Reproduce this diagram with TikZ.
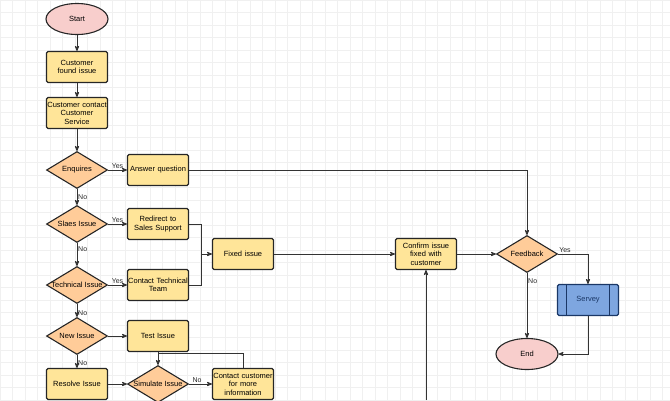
\documentclass[tikz,border=0pt]{standalone}
\usepackage{fontspec}
\setmainfont{Liberation Sans}
\usetikzlibrary{shapes,arrows,positioning}
\definecolor{boxfill}{HTML}{FFE599}
\definecolor{decfill}{HTML}{FFCC99}
\definecolor{termfill}{HTML}{F8CECC}
\definecolor{subfill}{HTML}{7EA6E0}
\definecolor{subdraw}{HTML}{1A3766}
\definecolor{linecol}{HTML}{333333}
\definecolor{gridcol}{HTML}{F0F0F0}
\tikzset{%
	procnode/.style={rectangle, rounded corners=1.5pt, draw=black!85, line width=1.1pt, fill=boxfill, minimum width=61pt, minimum height=31pt, text width=61pt, align=center, inner sep=0pt, font=\fontsize{7.5}{8.5}\selectfont},
	decnode/.style={diamond, aspect=1.65, draw=black!85, line width=1.1pt, fill=decfill, minimum width=61pt, minimum height=37pt, inner sep=0pt, font=\fontsize{7.5}{8.5}\selectfont},
	termnode/.style={ellipse, draw=black!85, line width=1.1pt, fill=termfill, minimum width=62pt, minimum height=31pt, inner sep=0pt, font=\fontsize{7.5}{8.5}\selectfont},
	subnode/.style={procnode, fill=subfill, draw=subdraw, text=subdraw, path picture={
		\draw[subdraw, line width=1.1pt] ([xshift=9pt]path picture bounding box.north west) -- ([xshift=9pt]path picture bounding box.south west);
		\draw[subdraw, line width=1.1pt] ([xshift=-9pt]path picture bounding box.north east) -- ([xshift=-9pt]path picture bounding box.south east);}},
	pt/.style={draw=linecol, line width=0.8pt, ->, >=stealth'},
	ln/.style={draw=linecol, line width=0.8pt},
	lbl/.style={inner sep=0.8pt, text=black!85, font=\fontsize{7}{7}\selectfont}
}
\begin{document}
\begin{tikzpicture}[x=1pt, y=-1pt, node distance=81pt]
	\useasboundingbox (0,0) rectangle (670,400);
	\draw[gridcol, line width=0.35pt, step=12.5pt] (0,400) grid (670,0);

	\node[termnode] (start) at (77,19) {Start};
	\node[procnode] (found) at (77,67) {Customer\\found issue};
	\node[procnode] (contact) at (77,113) {Customer contact\\Customer\\Service};
	\node[decnode] (enquires) at (77,170) {Enquires};
	\node[decnode] (sales) at (77,224) {Slaes Issue};
	\node[decnode] (technical) at (77,285) {Technical Issue};
	\node[decnode] (newissue) at (77,336) {New Issue};
	\node[procnode] (resolve) at (77,384) {Resolve Issue};

	\node[procnode] (answer) [right of=enquires] {Answer question};
	\node[procnode] (redirect) [right of=sales] {Redirect to\\Sales Support};
	\node[procnode] (techteam) [right of=technical] {Contact Technical\\Team};
	\node[procnode] (test) [right of=newissue] {Test Issue};
	\node[decnode] (simulate) [right of=resolve] {Simulate Issue};

	\node[procnode] (fixed) at (243,254) {Fixed issue};
	\node[procnode] (moreinfo) at (243,384) {Contact customer\\for more\\information};
	\node[procnode] (confirm) at (426,254) {Confirm issue\\fixed with\\customer};
	\node[decnode] (feedback) at (527,254) {Feedback};
	\node[subnode] (servey) at (588,300) {Servey};
	\node[termnode] (end) at (527,354) {End};

	\coordinate (jn) at (201,254);
	\coordinate (mj) at (158,353);
	\coordinate (offbot) at (426,400);

	\draw[pt] (start) -- (found);
	\draw[pt] (found) -- (contact);
	\draw[pt] (contact) -- (enquires);
	\draw[pt] (enquires) -- node[lbl, above, pos=0.5] {Yes} (answer);
	\draw[pt] (enquires) -- node[lbl, right, pos=0.5] {No} (sales);
	\draw[pt] (sales) -- node[lbl, above, pos=0.5] {Yes} (redirect);
	\draw[pt] (sales) -- node[lbl, right, pos=0.25] {No} (technical);
	\draw[pt] (technical) -- node[lbl, above, pos=0.5] {Yes} (techteam);
	\draw[pt] (technical) -- node[lbl, right, pos=0.7] {No} (newissue);
	\draw[pt] (newissue) -- (test);
	\draw[pt] (newissue) -- node[lbl, right, pos=0.6] {No} (resolve);
	\draw[pt] (resolve) -- (simulate);
	\draw[pt] (test) -- (simulate);
	\draw[pt] (simulate) -- node[lbl, above, pos=0.35] {No} (moreinfo);
	\draw[ln] (moreinfo) |- (mj);

	\draw[ln] (techteam) -| (jn);
	\draw[pt] (redirect) -| (jn) -- (fixed);
	\draw[pt] (fixed) -- (confirm);
	\draw[pt] (offbot) -- (confirm);
	\draw[pt] (confirm) -- (feedback);
	\draw[pt] (answer) -| (feedback);

	\draw[pt] (feedback) -| node[lbl, anchor=south west, pos=0] {Yes} (servey);
	\draw[pt] (feedback) -- node[lbl, right, pos=0.12] {No} (end);
	\draw[pt] (servey) |- (end);
\end{tikzpicture}
\end{document}
